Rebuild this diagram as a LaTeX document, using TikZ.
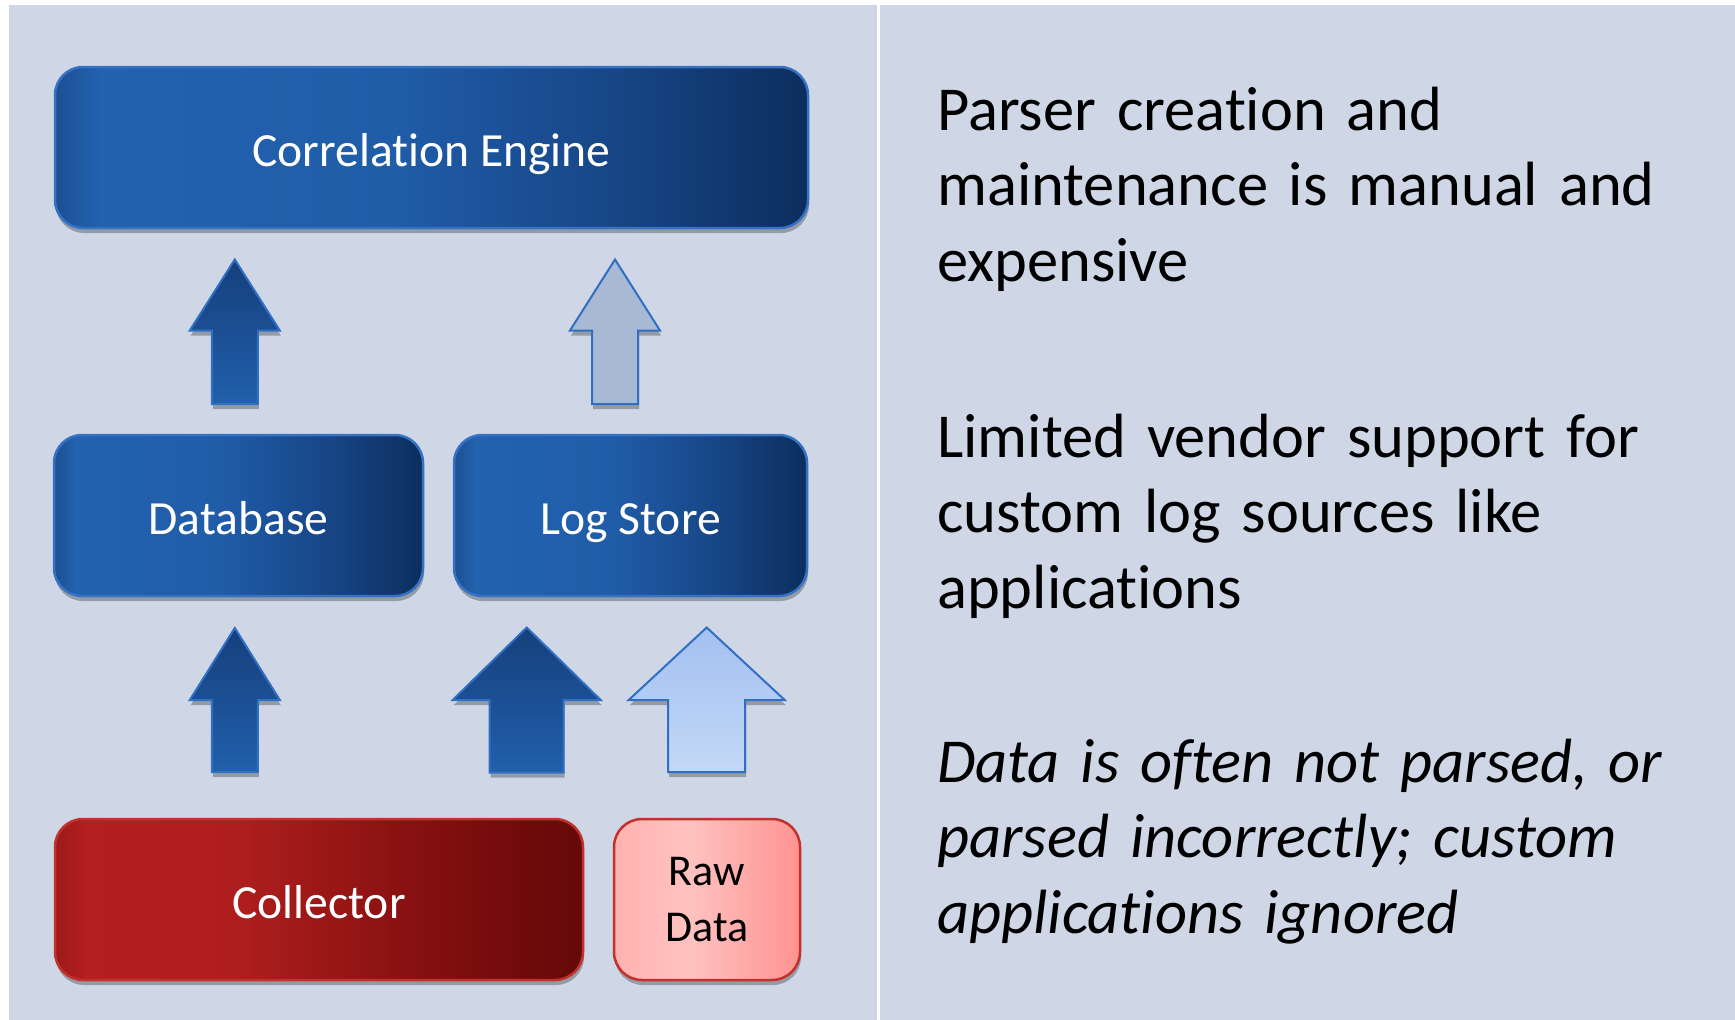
\documentclass[tikz,border=0pt]{standalone}
\usepackage{fontspec}
\setmainfont{Carlito}[Ligatures=NoCommon]
\usetikzlibrary{shadows}
\definecolor{panel}{HTML}{CFD7E6}
\definecolor{bluebd}{HTML}{3572C4}
\definecolor{bA}{HTML}{1C4F92}
\definecolor{bB}{HTML}{2262AF}
\definecolor{bC}{HTML}{205DA9}
\definecolor{bD}{HTML}{174687}
\definecolor{bE}{HTML}{0C2E5E}
\definecolor{rA}{HTML}{9C1A1A}
\definecolor{rB}{HTML}{B41F1F}
\definecolor{rC}{HTML}{AF1E1E}
\definecolor{rD}{HTML}{800E0E}
\definecolor{rE}{HTML}{650909}
\definecolor{redbd}{HTML}{C4302C}
\definecolor{pA}{HTML}{FFB2AF}
\definecolor{pB}{HTML}{FFC2C0}
\definecolor{pC}{HTML}{FF9391}
\definecolor{arrowbd}{HTML}{2F6FC4}
\definecolor{adTop}{HTML}{163F7C}
\definecolor{adBot}{HTML}{2160AC}
\definecolor{agray}{HTML}{A8B9D4}
\definecolor{alTop}{HTML}{A3C0F1}
\definecolor{alBot}{HTML}{C4D8F7}
\pgfdeclarehorizontalshading{blueglass}{100bp}{color(0bp)=(bA); color(25bp)=(bA); color(28bp)=(bB); color(47bp)=(bC); color(62bp)=(bD); color(75bp)=(bE); color(100bp)=(bE)}
\pgfdeclarehorizontalshading{redglass}{100bp}{color(0bp)=(rA); color(25bp)=(rA); color(28bp)=(rB); color(42bp)=(rC); color(62bp)=(rD); color(75bp)=(rE); color(100bp)=(rE)}
\pgfdeclarehorizontalshading{pinkglass}{100bp}{color(0bp)=(pA); color(25bp)=(pA); color(45bp)=(pB); color(75bp)=(pC); color(100bp)=(pC)}
\newcommand{\blockarrow}[7]{%
  \draw[#1] (#2-#7,#5) -- (#2-#7,#4) -- (#2-#6,#4) -- (#2,#3) -- (#2+#6,#4) -- (#2+#7,#4) -- (#2+#7,#5) -- cycle;}
\begin{document}
\begin{tikzpicture}[x=1pt,y=-1pt,
  softshadow/.style={drop shadow={shadow xshift=1pt, shadow yshift=-5pt, opacity=0.28, fill=black}},
  boxbase/.style={rounded corners=28pt, inner sep=0pt, line width=2.5pt, softshadow,
    minimum height=161pt},
  oneline/.style={font=\fontsize{47.6}{57}\selectfont, text=white, text height=37.5pt, text depth=0pt},
  bluebox/.style={boxbase, oneline, draw=bluebd, shading=blueglass},
  redbox/.style={boxbase, oneline, draw=redbd, shading=redglass},
  rawbox/.style={boxbase, draw=redbd, shading=pinkglass, text=black, align=center,
    font=\fontsize{44}{56}\selectfont},
  desc/.style={anchor=base west, inner sep=0pt, text width=790pt, align=left,
    font=\fontsize{62.5}{75.5}\selectfont},
  darrow/.style={draw=arrowbd, line width=2pt, line join=miter, top color=adTop, bottom color=adBot, softshadow},
  garrow/.style={draw=arrowbd, line width=2pt, line join=miter, fill=agray, softshadow},
  larrow/.style={draw=arrowbd, line width=2pt, line join=miter, top color=alTop, bottom color=alBot, softshadow}
]
\useasboundingbox (0,0) rectangle (1735,1020);
\fill[white] (0,0) rectangle (1735,1020);
\fill[panel] (9,5) rectangle (877,1020);
\fill[panel] (880,5) rectangle (1735,1020);

% boxes
\node[bluebox, minimum width=753pt] (ce) at (431.5,147.5) {Correlation Engine};
\node[bluebox, minimum width=369pt] (db) at (238.5,515.5) {Database};
\node[bluebox, minimum width=353pt] (ls) at (630.5,515.5) {Log Store};
\node[redbox, minimum width=528pt] (col) at (319,899.5) {Collector};
\node[rawbox, minimum width=186pt] (raw) at (707,899.5) {Raw\\Data};

% block arrows: style, cx, tip y, head base y, bottom y, head half, shaft half
\blockarrow{darrow}{234.8}{259.5}{330.5}{404}{45}{23}
\blockarrow{garrow}{615}{259.5}{330.5}{404}{45}{23}
\blockarrow{darrow}{234.8}{628}{700}{772}{45}{23}
\blockarrow{darrow}{526.7}{627.5}{700}{772.5}{74}{37}
\blockarrow{larrow}{706.7}{627.5}{700}{772}{78}{38.5}

% right-hand text
\node[desc] (p1) at (937,130) {Parser creation and\\maintenance is manual and\\expensive};
\node[desc] (p2) at (937,457) {Limited vendor support for\\custom log sources like\\applications};
\node[desc, font=\fontsize{62.5}{75.5}\selectfont\itshape] (p3) at (937,782) {Data is often not parsed, or\\parsed incorrectly; custom\\applications ignored};
\end{tikzpicture}
\end{document}
